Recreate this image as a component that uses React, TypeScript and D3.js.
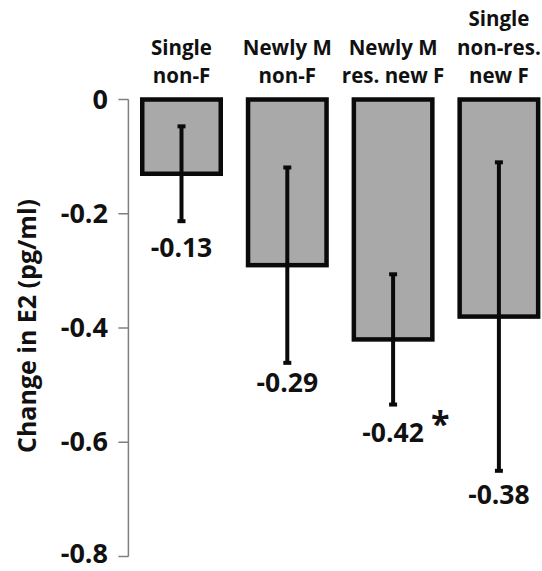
import React from "react";
import * as d3 from "d3";

const categories: string[][] = [
  ["Single", "non-F"],
  ["Newly M", "non-F"],
  ["Newly M", "res. new F"],
  ["Single", "non-res.", "new F"],
];
const means: number[] = [-0.13, -0.29, -0.42, -0.38];
const errors: number[] = [0.083, 0.171, 0.114, 0.27];
const valueLabels: string[] = ["-0.13", "-0.29", "-0.42", "-0.38"];
const significant: boolean[] = [false, false, true, false];
const yTicks: number[] = [0, -0.2, -0.4, -0.6, -0.8];
const yTickLabels: string[] = ["0", "-0.2", "-0.4", "-0.6", "-0.8"];
const yTitle = "Change in E2 (pg/ml)";

const W = 542;
const H = 571;
const FONT = "'Open Sans', sans-serif";
const labelDy = [36, 29, 37, 33];
const TICK_FS = 27;

export default function App() {
  const y = d3.scaleLinear().domain([-0.8, 0]).range([556.5, 99.5]);
  const keys = categories.map((_, i) => String(i));
  const x = d3
    .scaleBand<string>()
    .domain(keys)
    .range([128.6, 551.8])
    .paddingInner(0.258)
    .paddingOuter(0.129);
  const axisX = 128.4;
  const bw = x.bandwidth();

  return (
    <svg
      width={W}
      height={H}
      style={{ position: "absolute", left: 0, top: 0, display: "block", background: "#fff" }}
      fontFamily={FONT}
      fontWeight={700}
    >
      {/* y axis */}
      <line x1={axisX} x2={axisX} y1={y(0)} y2={y(-0.8)} stroke="#7f7f7f" strokeWidth={1.5} />
      {yTicks.map((t, i) => (
        <g key={i}>
          <line x1={axisX - 10} x2={axisX} y1={y(t)} y2={y(t)} stroke="#7f7f7f" strokeWidth={1.5} />
          <text
            x={108}
            y={Math.min(y(t) + 0.34 * TICK_FS, H - 0.3 * TICK_FS)}
            textAnchor="end"
            fontSize={TICK_FS}
            fill="#111"
          >
            {yTickLabels[i]}
          </text>
        </g>
      ))}
      <text
        transform={`translate(36, ${326}) rotate(-90)`}
        textAnchor="middle"
        fontSize={25}
        fill="#111"
      >
        {yTitle}
      </text>

      {/* bars */}
      {means.map((m, i) => {
        const cx = (x(keys[i]) as number) + bw / 2;
        const yTop = y(m + errors[i]);
        const yBot = y(m - errors[i]);
        return (
          <g key={i}>
            <rect
              x={x(keys[i])}
              y={y(0)}
              width={bw}
              height={y(m) - y(0)}
              fill="#a9a9a9"
              stroke="#0a0a0a"
              strokeWidth={4.5}
            />
            <line x1={cx} x2={cx} y1={yTop} y2={yBot} stroke="#0a0a0a" strokeWidth={4} />
            <line x1={cx - 4} x2={cx + 4} y1={yTop} y2={yTop} stroke="#0a0a0a" strokeWidth={4} />
            <line x1={cx - 4} x2={cx + 4} y1={yBot} y2={yBot} stroke="#0a0a0a" strokeWidth={4} />
            <text x={cx} y={yBot + labelDy[i]} textAnchor="middle" fontSize={26.5} fill="#111">
              {valueLabels[i]}
            </text>
            {significant[i] && (
              <text x={cx + 38} y={yBot + labelDy[i] + 8} textAnchor="start" fontSize={34} fill="#111" dy="-0.4em">
                *
              </text>
            )}
            {categories[i].map((line, j) => (
              <text
                key={j}
                x={cx}
                y={83 - (categories[i].length - 1 - j) * 28.5}
                textAnchor="middle"
                fontSize={20.5}
                fill="#111"
              >
                {line}
              </text>
            ))}
          </g>
        );
      })}
    </svg>
  );
}
